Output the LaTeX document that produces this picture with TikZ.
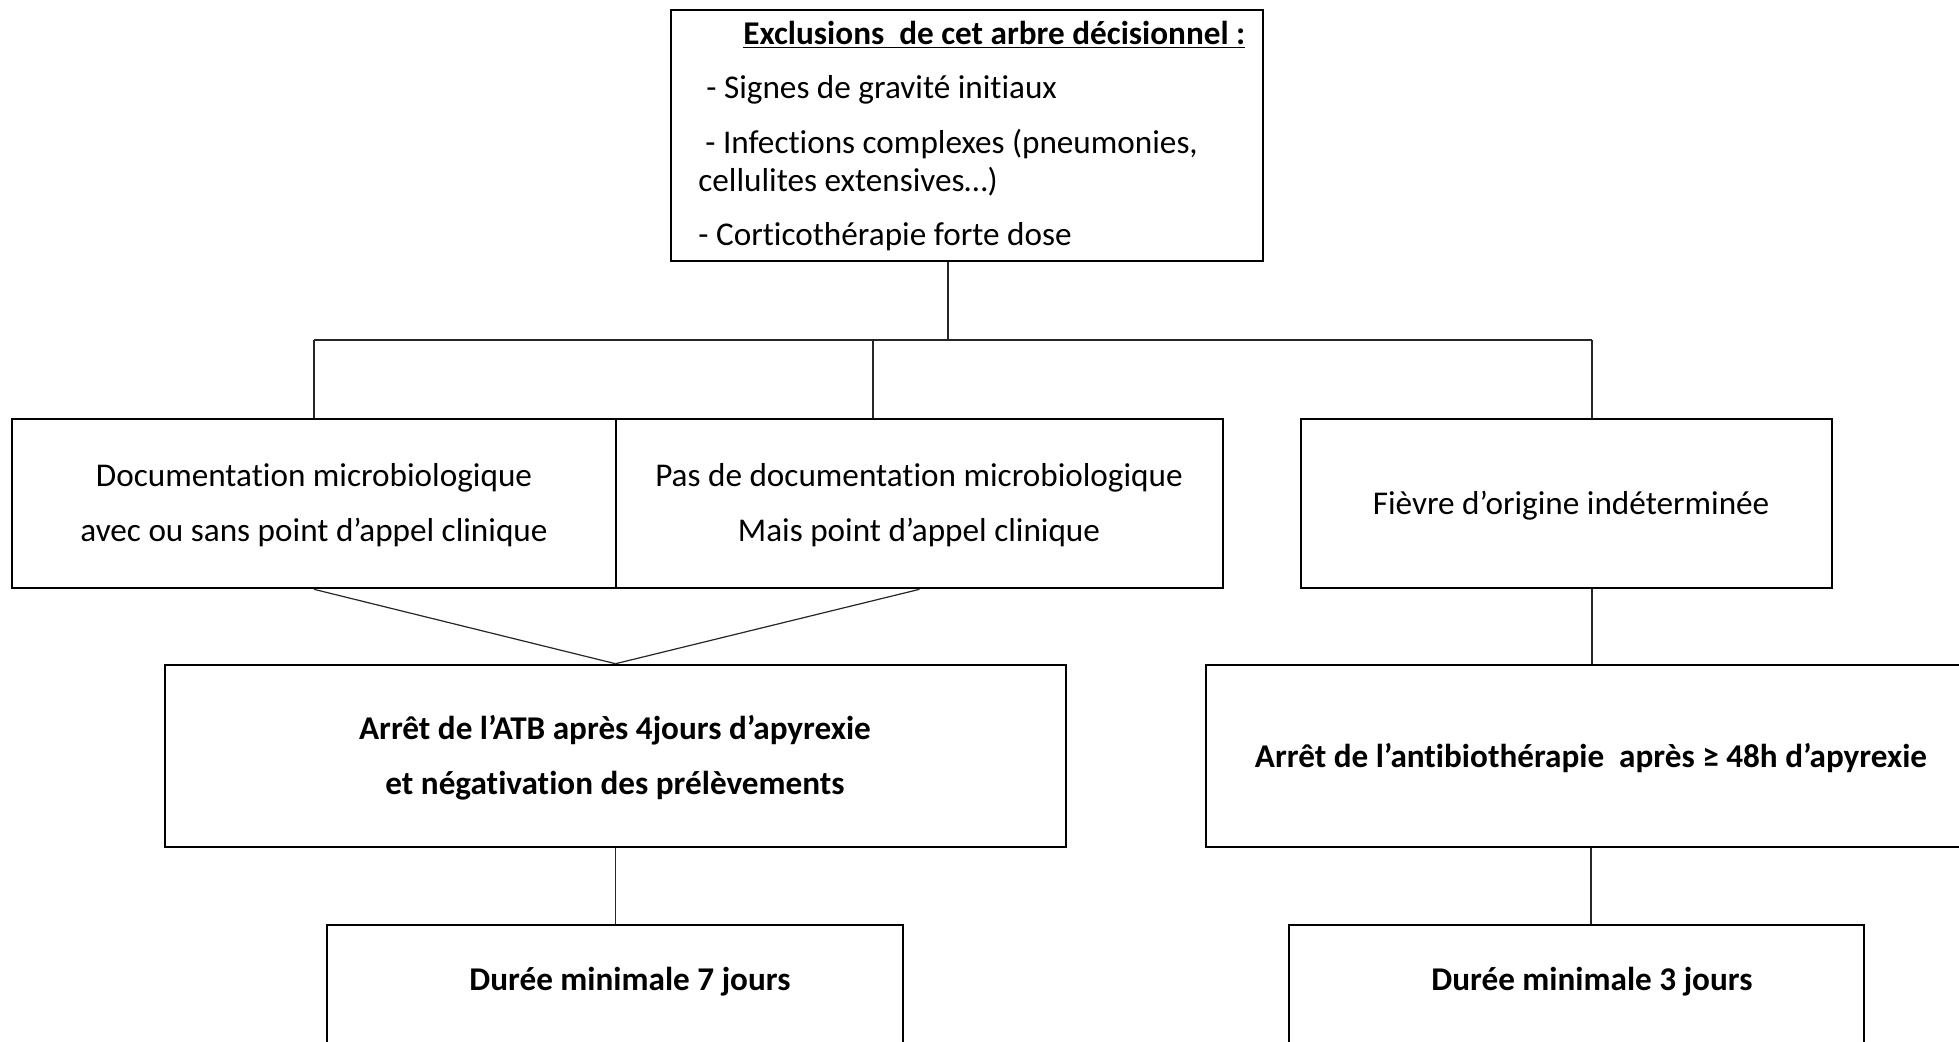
\documentclass[tikz,border=0pt]{standalone}
\usepackage{fontspec}
\setmainfont{Carlito}[Ligatures=NoCommon]
\usetikzlibrary{fit}
\begin{document}
\begin{tikzpicture}[x=0.5pt,y=-0.5pt,
  box/.style={draw=black, line width=1.3pt, inner sep=0pt},
  conn/.style={draw=black!85, line width=0.6pt},
  txt/.style={font=\fontsize{16.6pt}{27.5pt}\selectfont, align=center, inner sep=0pt},
  btxt/.style={font=\fontsize{16.6pt}{27.5pt}\selectfont\bfseries, align=center, inner sep=0pt},
  ltxt/.style={font=\fontsize{16.6pt}{20pt}\selectfont, anchor=base west, inner sep=0pt}]
\useasboundingbox (0,0) rectangle (1959,1041);
\clip (0,0) rectangle (1959,1041);
\fill[white] (0,0) rectangle (1959,1041);
% top box
\node[box, fit={(671,10) (1263,261)}] (excl) {};
\node[ltxt] (t1) at (743,44) {\textbf{\underline{Exclusions\ \ de cet arbre décisionnel :}}};
\node[ltxt] (t2) at (706,98) {- Signes de gravité initiaux};
\node[ltxt] (t3) at (705,153) {- Infections complexes (pneumonies,};
\node[ltxt] (t4) at (698,191) {cellulites extensives…)};
\node[ltxt] (t5) at (698,245) {- Corticothérapie forte dose};
% second row
\node[box, fit={(12,419) (616,588)}] (doc) {};
\node[txt] (doct) at (314,505) {Documentation microbiologique\\avec ou sans point d’appel clinique};
\node[box, fit={(616,419) (1223,588)}] (pas) {};
\node[txt] (past) at (919,505) {Pas de documentation microbiologique\\Mais point d’appel clinique};
\node[box, fit={(1301,419) (1832,588)}] (fievre) {};
\node[txt] (fievret) at (1571,506) {Fièvre d’origine indéterminée};
% third row
\node[box, fit={(165,665) (1066,847)}] (atb) {};
\node[btxt] (atbt) at (615,758) {Arrêt de l’ATB après 4jours d’apyrexie\\et négativation des prélèvements};
\node[box, fit={(1206,665) (1976,847)}] (abx) {};
\node[btxt] (abxt) at (1591,758) {Arrêt de l’antibiothérapie\ \ après ≥ 48h d’apyrexie};
% fourth row
\node[box, fit={(327,925) (903,1120)}] (d7) {};
\node[btxt] (d7t) at (630,982) {Durée minimale 7 jours};
\node[box, fit={(1289,925) (1864,1120)}] (d3) {};
\node[btxt] (d3t) at (1592,982) {Durée minimale 3 jours};
% connectors
\coordinate (jc) at (948,340);
\coordinate (jl) at (314,340);
\coordinate (jm) at (873,340);
\coordinate (jr) at (1592,340);
\draw[conn] (jc |- excl.south) -- (jc);
\draw[conn] (jl) -- (jr);
\draw[conn] (jl) -- (jl |- doc.north);
\draw[conn] (jm) -- (jm |- pas.north);
\draw[conn] (jr) -- (jr |- fievre.north);
\draw[conn] (doc.south) -- (atb.north);
\draw[conn] (pas.south) -- (atb.north);
\draw[conn] (jr |- fievre.south) -- (jr |- abx.north);
\draw[conn] (atb.south) -- (atb.south |- d7.north);
\draw[conn] (abx.south) -- (abx.south |- d3.north);
\end{tikzpicture}
\end{document}
